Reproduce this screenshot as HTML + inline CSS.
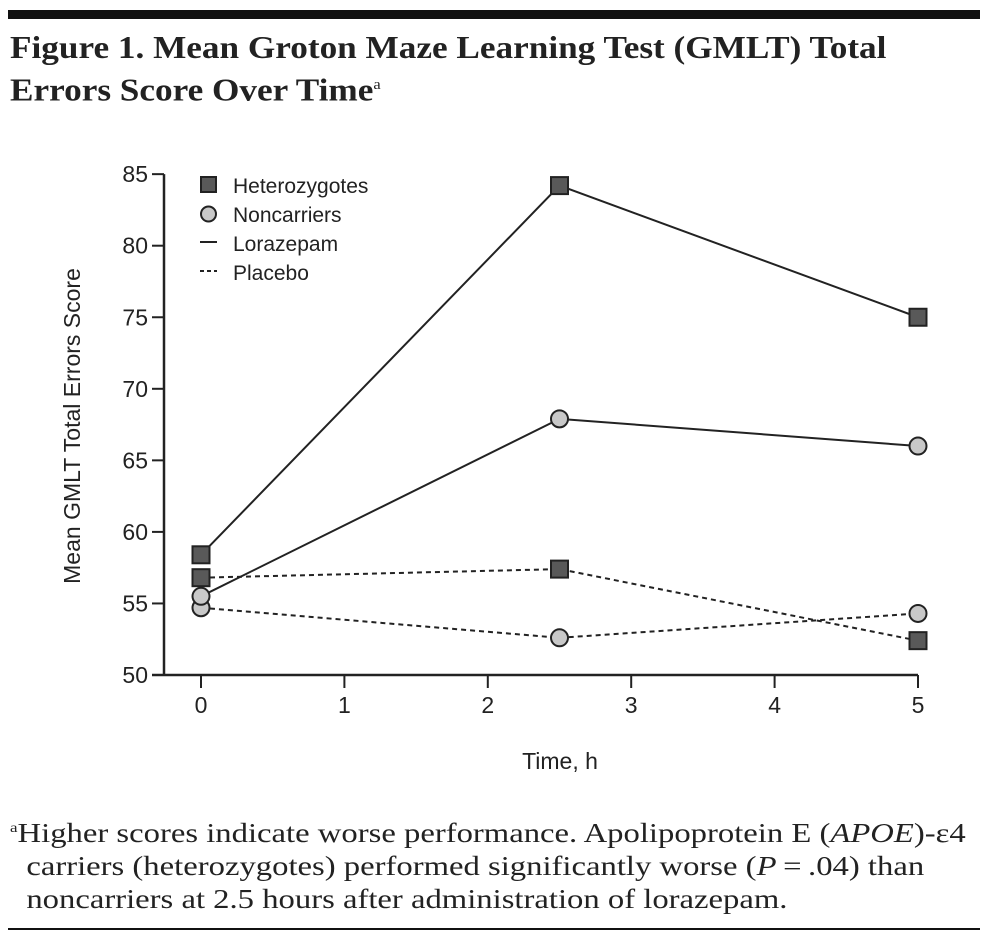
<!DOCTYPE html>
<html><head><meta charset="utf-8"><style>
body{margin:0;background:#fff;width:987px;height:939px;overflow:hidden;position:relative;font-family:"Liberation Serif",serif}
.bar{position:absolute;left:8px;top:10px;width:972px;height:9px;background:#111}
h1{position:absolute;left:10px;top:28px;margin:0;font-size:32px;line-height:38px;font-weight:bold;color:#222;width:900px;white-space:nowrap;transform:scaleX(1.1);transform-origin:left top}
h1 sup{font-size:15px;font-weight:normal}
.note{position:absolute;left:10px;top:812px;font-size:27px;line-height:33px;color:#222;width:800px;white-space:nowrap;transform:scaleX(1.21);transform-origin:left top}
.rule{position:absolute;left:8px;top:928px;width:972px;height:2px;background:#111}
svg{position:absolute;left:0;top:0}
</style></head><body>
<div class="bar"></div>
<h1>Figure 1. Mean Groton Maze Learning Test (GMLT) Total<br>Errors Score Over Time<sup>a</sup></h1>
<svg id="chart" width="987" height="939" font-family="Liberation Sans, sans-serif"></svg>
<div class="note"><sup style="font-size:14px">a</sup>Higher scores indicate worse performance. Apolipoprotein E (<i>APOE</i>)-ε4<br>&nbsp;&nbsp;carriers (heterozygotes) performed significantly worse (<i>P</i>&thinsp;=&thinsp;.04) than<br>&nbsp;&nbsp;noncarriers at 2.5 hours after administration of lorazepam.</div>
<div class="rule"></div>
<script>
const times=[0,2.5,5];
const hetLoraz=[58.4,84.2,75.0];
const nonLoraz=[55.5,67.9,66.0];
const hetPlac=[56.8,57.4,52.4];
const nonPlac=[54.7,52.6,54.3];
const yTicks=[50,55,60,65,70,75,80,85];
const xTicks=[0,1,2,3,4,5];
const NS="http://www.w3.org/2000/svg";
const svg=document.getElementById('chart');
const X=v=>201+v*143.4;
const Y=v=>675-(v-50)*14.31;
function mk(t,a,p){const e=document.createElementNS(NS,t);for(const k in a)e.setAttribute(k,a[k]);(p||svg).appendChild(e);return e;}
let e;
e=mk('line',{x1:164,y1:Y(85),x2:164,y2:675,stroke:'#222','stroke-width':2.5});


e=mk('line',{x1:152,y1:675,x2:X(5),y2:675,stroke:'#222','stroke-width':2.5});


yTicks.forEach(v=>{
 e=mk('line',{x1:152,x2:164,y1:Y(v),y2:Y(v),stroke:'#222','stroke-width':2});
 
 
 e=mk('text',{x:148,y:Y(v)+8,'text-anchor':'end','font-size':23,fill:'#222'});e.textContent=v;
 
 
});
xTicks.forEach(v=>{
 e=mk('line',{x1:X(v),x2:X(v),y1:675,y2:688,stroke:'#222','stroke-width':2});
 
 
 e=mk('text',{x:X(v),y:713,'text-anchor':'middle','font-size':23,fill:'#222'});e.textContent=v;
 
 
});
e=mk('text',{x:560,y:769,'text-anchor':'middle','font-size':23,fill:'#222'});e.textContent='Time, h';


e=mk('text',{x:0,y:0,'text-anchor':'middle','font-size':23,fill:'#222',transform:'translate(80,426) rotate(-90)'});e.textContent='Mean GMLT Total Errors Score';


function series(vals,dash,shape,name){
 const pts=times.map((t,i)=>X(t)+','+Y(vals[i])).join(' ');
 e=mk('polyline',{points:pts,fill:'none',stroke:'#222','stroke-width':2,'stroke-dasharray':dash?'5,4':'none'});
 
 
 times.forEach((t,i)=>{
  if(shape==='sq') e=mk('rect',{x:X(t)-8.5,y:Y(vals[i])-8.5,width:17,height:17,fill:'#595959',stroke:'#222','stroke-width':2});
  else e=mk('circle',{cx:X(t),cy:Y(vals[i]),r:8.5,fill:'#c8c8c8',stroke:'#222','stroke-width':2});
  
  
 });
}
series(hetPlac,true,'sq','heterozygotes-placebo');
series(nonPlac,true,'ci','noncarriers-placebo');
series(nonLoraz,false,'ci','noncarriers-lorazepam');
series(hetLoraz,false,'sq','heterozygotes-lorazepam');
const lg=mk('g',{});


mk('rect',{x:201,y:177,width:15,height:15,fill:'#595959',stroke:'#222','stroke-width':2},lg);
mk('circle',{cx:208.5,cy:214,r:7.5,fill:'#c8c8c8',stroke:'#222','stroke-width':2},lg);
mk('line',{x1:200,x2:217,y1:242,y2:242,stroke:'#222','stroke-width':2},lg);
mk('line',{x1:200,x2:217,y1:271,y2:271,stroke:'#222','stroke-width':2,'stroke-dasharray':'4,3'},lg);
['Heterozygotes','Noncarriers','Lorazepam','Placebo'].forEach((s,i)=>{
 e=mk('text',{x:233,y:193+i*29,'font-size':21,fill:'#222'},lg);e.textContent=s;
 
 
});
</script>
</body></html>
